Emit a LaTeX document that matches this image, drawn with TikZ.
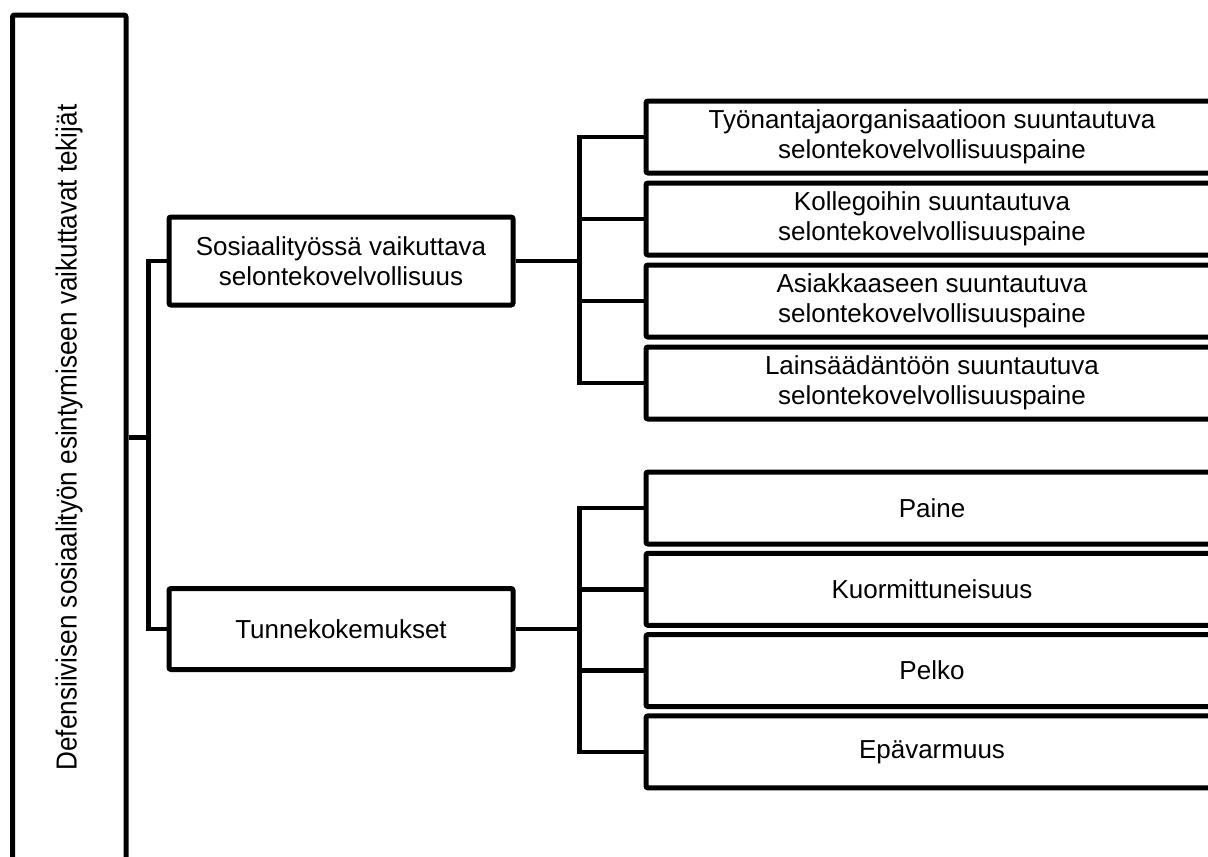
\documentclass[tikz,border=0pt]{standalone}
\usepackage{fontspec}
\usepackage{graphicx}
\usepackage{tikz}
\setmainfont{Liberation Sans}
\newfontfamily\narrowfont[FakeStretch=0.9]{Liberation Sans}
\usetikzlibrary{positioning}

\tikzset{
    rootbox/.style={rectangle, rounded corners=2pt, draw=black, line width=5pt, fill=white, minimum width=113.5pt, minimum height=845pt},
    catbox/.style={rectangle, rounded corners=2pt, draw=black, line width=5pt, fill=white, minimum width=344pt, align=center, font=\fontsize{26}{30}\selectfont},
    itembox/.style={rectangle, rounded corners=2pt, draw=black, line width=5pt, fill=white, minimum width=572pt, minimum height=72pt, align=center, font=\fontsize{26}{30}\selectfont},
    link/.style={draw=black, line width=4.5pt}
}

\begin{document}
\begin{tikzpicture}[x=1pt, y=-1pt]
    \useasboundingbox (0,0) rectangle (1208,857);
    \clip (0,0) rectangle (1208,857);

    \node[rootbox] (root) at (69.25,437.5) {\rotatebox{90}{\narrowfont\fontsize{29}{34}\selectfont Defensiivisen sosiaalityön esintymiseen vaikuttavat tekijät}};

    \node[catbox, minimum height=88pt] (account) at (341,261) {Sosiaalityössä vaikuttava\\selontekovelvollisuus};
    \node[catbox, minimum height=81pt] (feelings) at (341,629) {Tunnekokemukset};

    \node[itembox] (employer) at (932,137) {Työnantajaorganisaatioon suuntautuva\\selontekovelvollisuuspaine};
    \node[itembox, below=5pt of employer] (colleagues) {Kollegoihin suuntautuva\\selontekovelvollisuuspaine};
    \node[itembox, below=5pt of colleagues] (client) {Asiakkaaseen suuntautuva\\selontekovelvollisuuspaine};
    \node[itembox, below=5pt of client] (law) {Lainsäädäntöön suuntautuva\\selontekovelvollisuuspaine};

    \node[itembox] (pressure) at (932,508) {Paine};
    \node[itembox, below=4.3pt of pressure] (strain) {Kuormittuneisuus};
    \node[itembox, below=4.3pt of strain] (fear) {Pelko};
    \node[itembox, below=4.3pt of fear] (uncertainty) {Epävarmuus};

    \draw[link] (root.east) -- ++(20,0) coordinate (lefttrunk);
    \draw[link] (lefttrunk) |- (account.west);
    \draw[link] (lefttrunk) |- (feelings.west);

    \draw[link] (account.east) -- ++(64,0) coordinate (toptrunk);
    \foreach \item in {employer, colleagues, client, law}
        \draw[link] (toptrunk) |- (\item.west);

    \draw[link] (feelings.east) -- ++(64,0) coordinate (bottomtrunk);
    \foreach \item in {pressure, strain, fear, uncertainty}
        \draw[link] (bottomtrunk) |- (\item.west);
\end{tikzpicture}
\end{document}
